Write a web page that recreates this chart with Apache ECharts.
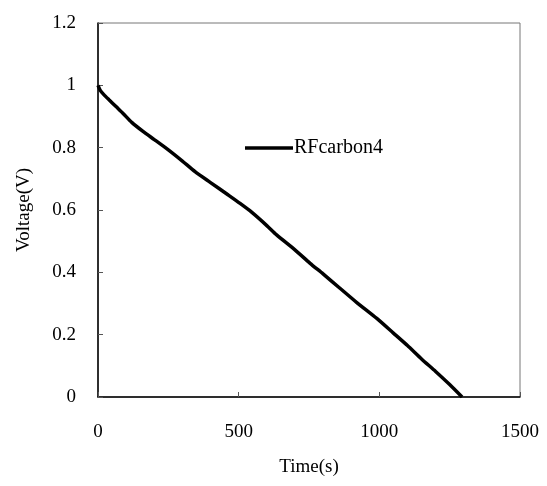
<!DOCTYPE html>
<html>
<head>
<meta charset="utf-8">
<script src="https://cdn.jsdelivr.net/npm/echarts@6/dist/echarts.min.js"></script>
<style>
  html, body { margin: 0; padding: 0; background: #fff; }
  #chart { width: 547px; height: 486px; }
</style>
</head>
<body>
<div id="chart"></div>
<script>
// discharge curve
const timeS = [0, 8, 20, 40, 65, 90, 120, 160, 200, 250, 300, 345, 400, 463, 505, 546, 600, 635, 700, 754, 800, 860, 920, 991, 1050, 1100, 1150, 1200, 1250, 1294];
const voltage = [1.0, 0.984, 0.971, 0.953, 0.931, 0.909, 0.881, 0.852, 0.826, 0.793, 0.757, 0.723, 0.688, 0.648, 0.621, 0.593, 0.55, 0.52, 0.472, 0.429, 0.395, 0.349, 0.303, 0.252, 0.205, 0.165, 0.122, 0.082, 0.04, 0.0];
const seriesName = 'RFcarbon4';

const font = '"Liberation Serif", "Times New Roman", serif';

const chart = echarts.init(document.getElementById('chart'));

const option = {
  backgroundColor: '#fff',
  animation: false,
  textStyle: { fontFamily: font },
  grid: {
    left: 98, right: 27, top: 23, bottom: 89,
    show: true,
    borderColor: '#777',
    borderWidth: 1
  },
  legend: {
    data: [{ name: seriesName, icon: 'rect' }],
    left: 240, top: 133,
    itemWidth: 48, itemHeight: 3.5,
    itemGap: 4,
    textStyle: { fontFamily: font, fontSize: 20, color: '#000', padding: [0, 0, 0, -4] }
  },
  xAxis: {
    type: 'value',
    min: 0, max: 1500, interval: 500,
    name: 'Time(s)',
    nameLocation: 'middle',
    nameGap: 61,
    nameTextStyle: { fontFamily: font, fontSize: 19, color: '#000' },
    axisLine: { lineStyle: { color: '#000', width: 1.5 } },
    axisTick: { inside: true, length: 5, lineStyle: { color: '#555' } },
    axisLabel: { fontFamily: font, fontSize: 19, color: '#000', margin: 26, formatter: v => String(v) },
    splitLine: { show: false }
  },
  yAxis: {
    type: 'value',
    min: 0, max: 1.2, interval: 0.2,
    name: 'Voltage(V)',
    nameLocation: 'middle',
    nameGap: 64,
    nameTextStyle: { fontFamily: font, fontSize: 19, color: '#000' },
    axisLine: { show: true, lineStyle: { color: '#000', width: 1.5 } },
    axisTick: { show: true, inside: true, length: 5, lineStyle: { color: '#555' } },
    axisLabel: { fontFamily: font, fontSize: 19, color: '#000', margin: 22 },
    splitLine: { show: false }
  },
  series: [{
    name: seriesName,
    type: 'line',
    data: timeS.map((t, i) => [t, voltage[i]]),
    symbol: 'none',
    smooth: 0.2,
    lineStyle: { color: '#000', width: 3.5 },
    itemStyle: { color: '#000' }
  }]
};

chart.setOption(option);
</script>
</body>
</html>
